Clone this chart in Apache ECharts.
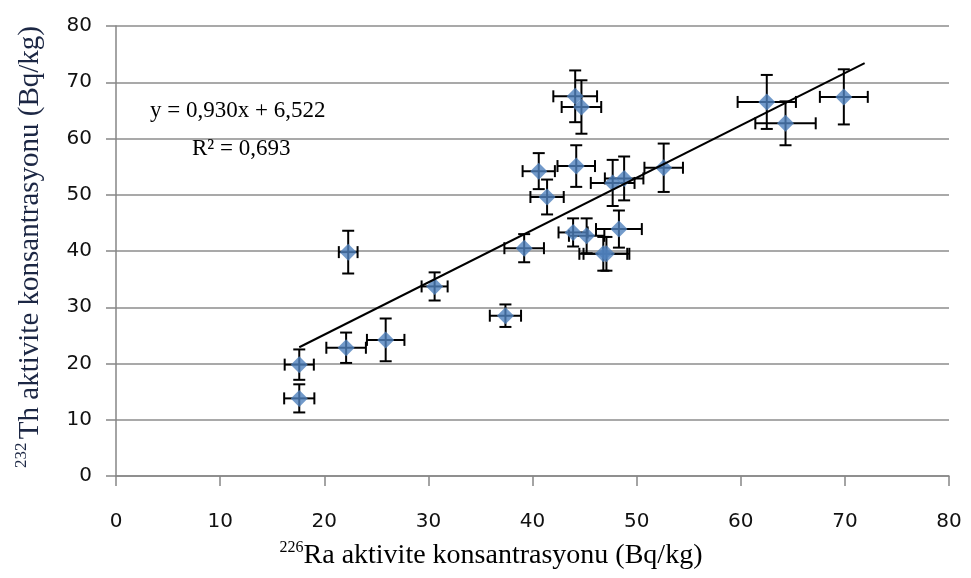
<!DOCTYPE html>
<html>
<head>
<meta charset="utf-8">
<script src="https://cdn.jsdelivr.net/npm/echarts@6/dist/echarts.min.js"></script>
<style>
  html, body { margin: 0; padding: 0; background: #ffffff; }
  #chart { width: 971px; height: 578px; }
</style>
</head>
<body>
<div id="chart"></div>
<script>
// 226Ra (x) and 232Th (y) activity concentrations, Bq/kg, with their uncertainties
const raValues = [17.6, 17.6, 22.3, 22.1, 25.9, 30.6, 37.4, 39.2, 40.6, 41.4, 44.1, 44.7,
                  44.2, 43.9, 45.2, 46.8, 47.1, 47.7, 48.8, 48.3, 52.6, 62.5, 64.3, 69.9];
const thValues = [19.8, 13.8, 39.8, 22.8, 24.2, 33.7, 28.5, 40.5, 54.2, 49.6, 67.5, 65.6,
                  55.1, 43.3, 42.7, 39.5, 39.5, 52.1, 52.9, 43.9, 54.8, 66.5, 62.7, 67.4];
const raErrors = [1.4, 1.45, 0.9, 1.9, 1.8, 1.25, 1.5, 1.9, 1.55, 1.6, 2.1, 1.9,
                  1.8, 1.4, 1.7, 2.3, 2.2, 2.1, 1.85, 2.2, 1.85, 2.8, 2.9, 2.3];
const thErrors = [2.7, 2.5, 3.8, 2.7, 3.8, 2.5, 2.0, 2.5, 3.2, 3.1, 4.6, 4.75,
                  3.7, 2.5, 3.1, 3.0, 3.0, 4.1, 3.9, 3.3, 4.3, 4.8, 3.9, 4.9];

// Linear fit y = a·x + b and its x extent
const fitSlope = 0.930;
const fitIntercept = 6.522;
const fitRSquared = '0,693';
const fitRange = [17.6, 71.9];

const axisTicks = [0, 10, 20, 30, 40, 50, 60, 70, 80];

const points = raValues.map((x, i) => [x, thValues[i]]);
const errorData = raValues.map((x, i) => [x, thValues[i], raErrors[i], thErrors[i]]);
const fitLine = fitRange.map(x => [x, fitSlope * x + fitIntercept]);

const axisColor = '#868686';
const labelFont = 'DejaVu Sans';
const serif = 'Liberation Serif';

function renderErrorBar(params, api) {
  const x = api.value(0), y = api.value(1), ex = api.value(2), ey = api.value(3);
  const left = api.coord([x - ex, y]);
  const right = api.coord([x + ex, y]);
  const top = api.coord([x, y + ey]);
  const bottom = api.coord([x, y - ey]);
  const cap = 6;
  const style = { stroke: '#000000', lineWidth: 2 };
  const seg = (x1, y1, x2, y2) => ({ type: 'line', shape: { x1, y1, x2, y2 }, style });
  return {
    type: 'group',
    children: [
      seg(left[0], left[1], right[0], right[1]),
      seg(top[0], top[1], bottom[0], bottom[1]),
      seg(left[0], left[1] - cap, left[0], left[1] + cap),
      seg(right[0], right[1] - cap, right[0], right[1] + cap),
      seg(top[0] - cap, top[1], top[0] + cap, top[1]),
      seg(bottom[0] - cap, bottom[1], bottom[0] + cap, bottom[1])
    ]
  };
}

const chart = echarts.init(document.getElementById('chart'), null, { renderer: 'canvas' });

chart.setOption({
  animation: false,
  backgroundColor: '#ffffff',
  grid: { left: 116, right: 22, top: 26, bottom: 102, containLabel: false },
  xAxis: {
    type: 'value',
    min: axisTicks[0],
    max: axisTicks[axisTicks.length - 1],
    interval: axisTicks[1] - axisTicks[0],
    axisLine: { show: true, onZero: false, lineStyle: { color: axisColor, width: 1.5 } },
    axisTick: { show: true, length: 10, lineStyle: { color: axisColor, width: 1.5 } },
    splitLine: { show: false },
    axisLabel: { margin: 36, fontFamily: labelFont, fontSize: 20, color: '#111111' }
  },
  yAxis: {
    type: 'value',
    min: axisTicks[0],
    max: axisTicks[axisTicks.length - 1],
    interval: axisTicks[1] - axisTicks[0],
    axisLine: { show: true, onZero: false, lineStyle: { color: axisColor, width: 1.5 } },
    axisTick: { show: true, length: 10, lineStyle: { color: axisColor, width: 1.5 } },
    splitLine: { show: true, lineStyle: { color: '#8c8c8c', width: 1.5 } },
    axisLabel: { margin: 24, fontFamily: labelFont, fontSize: 20, color: '#111111' }
  },
  series: [
    {
      name: 'error',
      type: 'custom',
      renderItem: renderErrorBar,
      data: errorData,
      encode: { x: 0, y: 1 },
      z: 2,
      silent: true
    },
    {
      name: 'samples',
      type: 'scatter',
      data: points,
      symbol: 'diamond',
      symbolSize: 17,
      itemStyle: { color: '#4F81BD' },
      z: 3
    },
    {
      name: 'fit',
      type: 'line',
      data: fitLine,
      showSymbol: false,
      symbol: 'none',
      lineStyle: { color: '#000000', width: 2 },
      z: 4
    }
  ],
  graphic: [
    {
      type: 'text',
      left: 150, top: 99,
      style: { text: 'y = 0,930x + 6,522', font: '23px "' + serif + '"', fill: '#000000' },
      z: 10
    },
    {
      type: 'text',
      left: 192, top: 137,
      style: { text: 'R² = ' + fitRSquared, font: '23px "' + serif + '"', fill: '#000000' },
      z: 10
    },
    {
      type: 'text',
      x: 491, y: 556,
      style: {
        text: '{sup|226}{main|Ra aktivite konsantrasyonu (Bq/kg)}',
        align: 'center', verticalAlign: 'middle',
        rich: {
          sup: { fontFamily: serif, fontSize: 16, verticalAlign: 'top', lineHeight: 18, fill: '#000000' },
          main: { fontFamily: serif, fontSize: 28, lineHeight: 32, fill: '#000000' }
        }
      }
    },
    {
      type: 'text',
      x: 30, y: 247,
      rotation: Math.PI / 2,
      style: {
        text: '{sup|232} {main|Th aktivite konsantrasyonu (Bq/kg)}',
        align: 'center', verticalAlign: 'middle',
        rich: {
          sup: { fontFamily: serif, fontSize: 17, verticalAlign: 'top', lineHeight: 19, fill: '#1c2744' },
          main: { fontFamily: serif, fontSize: 29, lineHeight: 34, fill: '#1c2744' }
        }
      }
    }
  ]
});
</script>
</body>
</html>
